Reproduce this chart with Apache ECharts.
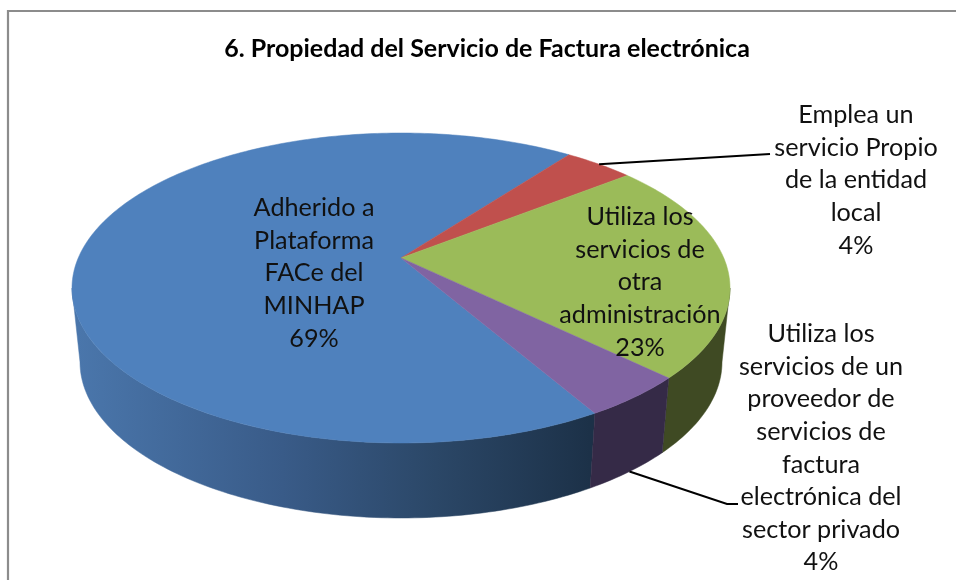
<!DOCTYPE html>
<html>
<head>
<meta charset="utf-8">
<style>html,body{margin:0;padding:0;background:#fff}#c{width:956px;height:580px;filter:blur(0.45px)}</style>
<script src="https://cdn.jsdelivr.net/npm/echarts@6/dist/echarts.min.js"></script>
</head>
<body>
<div id="c"></div>
<script>
const titleText = '6. Propiedad del Servicio de Factura electrónica';
const categories = [
  'Adherido a\nPlataforma\nFACe del\nMINHAP',
  'Emplea un\nservicio Propio\nde la entidad\nlocal',
  'Utiliza los\nservicios de\notra\nadministración',
  'Utiliza los\nservicios de un\nproveedor de\nservicios de\nfactura\nelectrónica del\nsector privado'
];
const values = [68.6, 4.1, 22.9, 4.4];

// layout (not data)
const START_DEG = 150;           // clockwise from 12 o'clock
const TOP = {cx: 401, cy: 288, rx: 329, ry: 155};
const BOTTOM = {cx: 401, cy: 362, rx: 321, ry: 156};
const PERSPECTIVE = -0.194;      // where the pie centre lands on the ellipse's vertical axis
const topColors = ['#4f81bd', '#c0504d', '#9bbb59', '#8064a2'];
const sideColors = [
  {type: 'linear', x: 78, y: 0, x2: 590, y2: 0, global: true, colorStops: [
    {offset: 0, color: '#4a76ab'}, {offset: 0.4, color: '#395b88'},
    {offset: 0.7, color: '#2b4767'}, {offset: 1, color: '#1c3148'}]},
  '#6e3432',
  '#3f4a23',
  '#352a47'
];
const labelPos = [
  {x: 314, y: 208}, {x: 856, y: 115}, {x: 640, y: 217}, {x: 821, y: 334}
];
const leaders = [
  null,
  {face: TOP, tail: [[770, 154]]},
  null,
  {face: BOTTOM, tail: [[727, 504], [738, 504]]}
];
const LINE_H = 32.6;
const FONT = 'Lato, "Open Sans", sans-serif';

const total = values.reduce((a, b) => a + b, 0);
const sliceAngles = [];
values.reduce((acc, v) => {
  const next = acc + v / total * 360;
  sliceAngles.push([acc, next]);
  return next;
}, START_DEG);

// perspective map of the unit circle onto the ellipse
function project(face, deg) {
  const t = deg * Math.PI / 180, u = Math.sin(t), v = -Math.cos(t), a = PERSPECTIVE;
  const d = 1 + a * v;
  return [face.cx + face.rx * u * Math.sqrt(1 - a * a) / d, face.cy + face.ry * (v + a) / d];
}
function apex(face) { return [face.cx, face.cy + face.ry * PERSPECTIVE]; }
function arc(face, from, to) {
  const pts = [], n = Math.max(2, Math.ceil(to - from));
  for (let i = 0; i <= n; i++) pts.push(project(face, from + (to - from) * i / n));
  return pts;
}
// only the front of the rim is seen: from the right extreme to the left extreme of the ellipse
const FRONT_FROM = Math.acos(PERSPECTIVE) * 180 / Math.PI;
const FRONT_TO = 360 - FRONT_FROM;

const rows = values.map((v, i) => [v, i]);

const option = {
  backgroundColor: '#fff',
  animation: false,
  title: {
    text: titleText, left: 482, top: 31, textAlign: 'center',
    textStyle: {fontFamily: FONT, fontWeight: 'bold', fontSize: 25, color: '#000'}
  },
  graphic: [
    {type: 'polyline', shape: {points: [[8, 580], [8, 11], [956, 11]]}, z: 0,
     style: {stroke: '#8c8c8c', lineWidth: 2.2, fill: null}}
  ],
  series: [
    { type: 'custom', coordinateSystem: 'none', z: 2, data: rows, silent: true,
      renderItem(params, api) {
        const i = api.value(1), [s, e] = sliceAngles[i], children = [];
        [0, 360].forEach(turn => {
          const a = Math.max(s, FRONT_FROM + turn), b = Math.min(e, FRONT_TO + turn);
          if (b > a) {
            children.push({
              type: 'polygon',
              shape: {points: arc(TOP, a, b).concat(arc(BOTTOM, a, b).reverse())},
              style: {fill: sideColors[i], stroke: sideColors[i], lineWidth: 0.5}
            });
          }
        });
        return {type: 'group', children};
      }
    },
    { type: 'custom', coordinateSystem: 'none', z: 3, data: rows, silent: true,
      renderItem(params, api) {
        const i = api.value(1), [a, b] = sliceAngles[i];
        const pts = [apex(TOP)].concat(arc(TOP, a, b));
        return {type: 'polygon', shape: {points: pts},
                style: {fill: topColors[i], stroke: topColors[i], lineWidth: 0.5}};
      }
    },
    { type: 'custom', coordinateSystem: 'none', z: 4, data: rows, silent: true,
      renderItem(params, api) {
        const v = api.value(0), i = api.value(1), [a, b] = sliceAngles[i];
        const children = [{
          type: 'text',
          style: {
            text: categories[i] + '\n' + Math.round(v) + '%',
            x: labelPos[i].x, y: labelPos[i].y - LINE_H / 2,
            align: 'center', verticalAlign: 'top',
            font: '25.2px ' + FONT, lineHeight: LINE_H, fill: '#111'
          }
        }];
        const l = leaders[i];
        if (l) {
          children.push({
            type: 'polyline',
            shape: {points: [project(l.face, (a + b) / 2)].concat(l.tail)},
            style: {stroke: '#000', lineWidth: 2, fill: null}
          });
        }
        return {type: 'group', children};
      }
    }
  ]
};
const chart = echarts.init(document.getElementById('c'), null, {renderer: 'canvas'});
chart.setOption(option);
</script>
</body>
</html>
